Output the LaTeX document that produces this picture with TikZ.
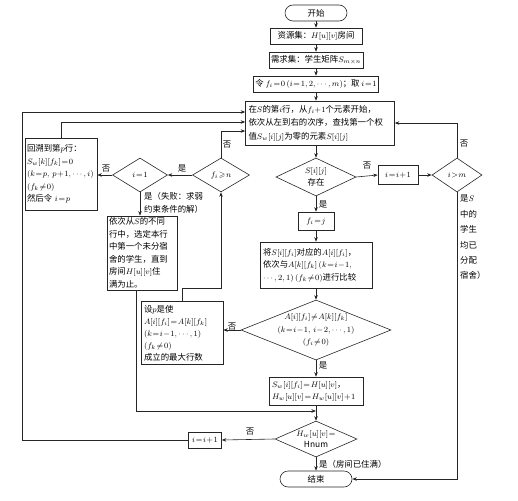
\documentclass[tikz,border=0pt]{standalone}
\usepackage{amssymb}
\usepackage{fontspec}
\setmainfont{Noto Sans CJK SC}
\usetikzlibrary{shapes.geometric,arrows.meta}
\newcommand{\tightmath}{\thickmuskip=1.5mu plus 1mu\medmuskip=1mu plus 1mu}
\begin{document}
\begin{tikzpicture}[x=1pt,y=-1pt,
  every node/.style={font=\fontsize{8.4}{12.5}\selectfont\tightmath},
  line/.style={line width=0.6pt, draw=black!85},
  arr/.style={line, -{Stealth[length=4.5pt,width=3.5pt]}},
  box/.style={draw=black!85, line width=0.6pt, inner sep=2pt, align=center},
  tbox/.style={draw=black!85, line width=0.6pt, inner xsep=3pt, inner ysep=2pt, align=left, text width=#1},
  term/.style={draw=black!85, line width=0.6pt, rounded corners=8pt, minimum width=62pt, minimum height=16pt, inner sep=1pt},
  dia/.style={draw=black!85, line width=0.6pt, diamond, inner sep=0pt},
  lab/.style={inner sep=0pt}
]
\useasboundingbox (0,0) rectangle (518,500);

% main axis
\node[term] (start) at (316,13) {开始};
\node[box, minimum width=92pt, minimum height=16pt] (res) at (316,36) {资源集：$H[u][v]$房间};
\node[box, minimum width=92pt, minimum height=16pt] (req) at (316,60) {需求集：学生矩阵$S_{m\times n}$};
\node[box, minimum width=114pt, minimum height=16pt] (init) at (316,84) {令 $f_i=0\,(i=1,2,\cdots,m)$；取 $i=1$};
\node[tbox=143pt, minimum height=44pt, font=\fontsize{8.4}{13.5}\selectfont\tightmath] (main) at (320,123)
  {在$S$的第$i$行，从$f_i{+}1$个元素开始，\\依次从左到右的次序，查找第一个权\\值$S_w[i][j]$为零的元素$S[i][j]$};
\node[dia, minimum width=80pt, minimum height=38pt, label={[align=center,lab]center:{$S[i][j]$\\存在}}] (d1) at (316,177) {};
\node[box, minimum width=40pt, minimum height=19pt] (inc1) at (398,175) {$i=i+1$};
\node[dia, minimum width=50pt, minimum height=34pt, label={[lab]center:{$i>m$}}] (d2) at (457,175) {};
\node[box, minimum width=36pt, minimum height=18pt] (fj) at (316,221) {$f_i=j$};
\node[tbox=106pt, minimum height=46pt] (cmp) at (316,265)
  {将$S[i][f_i]$对应的$A[i][f_i]$，\\依次与$A[k][f_k]\,(k=i-1,$\\$\cdots,2,1)\,(f_k\neq0)$进行比较};
\node[dia, minimum width=150pt, minimum height=60pt, label={[align=center,lab]center:{$A[i][f_i]\neq A[k][f_k]$\\$(k=i-1,\,i-2,\cdots,1)$\\$(f_i\neq0)$}}] (d3) at (316,330) {};
\node[tbox=76pt, minimum height=63pt, font=\fontsize{8.4}{12}\selectfont\tightmath] (setp) at (182,333)
  {设$p$是使\\$A[i][f_i]=A[k][f_k]$\\$(k=i-1,\cdots,1)$\\$(f_k\neq0)$\\成立的最大行数};
\node[tbox=88pt, minimum height=28pt, font=\fontsize{8.4}{12}\selectfont\tightmath] (sw) at (316,391)
  {$S_w[i][f_i]=H[u][v]$，\\$H_w[u][v]=H_w[u][v]+1$};
\node[dia, minimum width=82pt, minimum height=36pt, label={[align=center,lab,font=\fontsize{8.4}{11}\selectfont\tightmath]center:{$H_w[u][v]=$\\Hnum}}] (d4) at (316,439) {};
\node[box, minimum width=33pt, minimum height=16pt] (inc2) at (205,440) {$i=i+1$};
\node[term, minimum width=72pt] (end) at (316,479) {结束};

% left part
\node[dia, minimum width=57pt, minimum height=34pt, label={[lab]center:{$f_i\geqslant n$}}] (fn) at (221,175) {};
\node[dia, minimum width=55pt, minimum height=34pt, label={[lab]center:{$i=1$}}] (i1) at (140,175) {};
\node[tbox=68pt, inner xsep=2pt, minimum height=72pt] (back) at (61,174)
  {回溯到第$p$行：\\$S_w[k][f_k]=0$\\\mbox{$(k=p,\,p+1,\cdots,i)$}\\$(f_k\neq0)$\\然后令 $i=p$};
\node[tbox=66pt, inner xsep=2pt, minimum height=73pt] (seq) at (142,253)
  {依次从$S$的不同\\行中，选定本行\\中第一个未分宿\\舍的学生，直到\\房间$H[u][v]$住\\满为止。};

% coordinates
\coordinate (cL) at (22,112);
\coordinate (cB) at (61,122);
\coordinate (cF) at (221,131);
\coordinate (cS) at (221,288);
\coordinate (cQ) at (136,411);

% connectors
\draw[arr] (start) -- (res);
\draw[arr] (res) -- (req);
\draw[arr] (req) -- (init);
\draw[arr] (init) -- (main.north -| init);
\draw[arr] (main.south -| d1) -- (d1.north);
\draw[arr] (d1.east) -- (inc1.west);
\draw[arr] (inc1.east) -- (d2.west);
\draw[arr] (d2.north) |- (main.east);
\draw[arr] (d2.south) |- (end.east);
\draw[arr] (d1.south) -- (fj.north);
\draw[arr] (fj.south) -- (cmp.north);
\draw[arr] (cmp.south) -- (d3.north);
\draw[arr] (d3.west) -- (setp.east |- d3.west);
\draw[arr] (d3.south) -- (sw.north);
\draw[arr] (sw.south) -- (d4.north);
\draw[arr] (d4.south) -- (end.north);
\draw[arr] (d4.west) -- (inc2.east);
\draw[arr] (inc2.west) -| (cL) -- (main.west |- cL);
\draw[arr] (setp.north) |- (cS) -- (fn.south);
\draw[arr] (fn.north) -- (cF) -- (main.west |- cF);
\draw[arr] (fn.west) -- (i1.east);
\draw[arr] (i1.west) -- (back.east |- i1.west);
\draw[arr] (back.north) -- (cB) -- (main.west |- cB);
\draw[arr] (i1.south) -- (seq.north -| i1.south);
\draw[arr] (seq.south -| cQ) -- (cQ) -- (cQ -| sw.south);

% labels
\node[lab] (lNo1) at (227,145) {否};
\node[lab] (lYes1) at (182,168) {是};
\node[lab] (lNo2) at (106,169) {否};
\node[lab, anchor=west, align=left] (lFail) at (144,203) {是（失败：求弱\\约束条件的解）};
\node[lab] (lNo3) at (367,166) {否};
\node[lab] (lNo4) at (464,144) {否};
\node[lab] (lYes2) at (323,204) {是};
\node[lab] (lNo5) at (232,327) {否};
\node[lab] (lYes3) at (323,365) {是};
\node[lab] (lNo6) at (250,432) {否};
\node[lab, anchor=west] (lYes4) at (319,464) {是（房间已住满）};
\node[lab, anchor=north west, align=left, font=\fontsize{8.4}{15.4}\selectfont\tightmath] (lYes5) at (460,195) {是$S$\\中的\\学生\\均已\\分配\\宿舍）};
\end{tikzpicture}
\end{document}
